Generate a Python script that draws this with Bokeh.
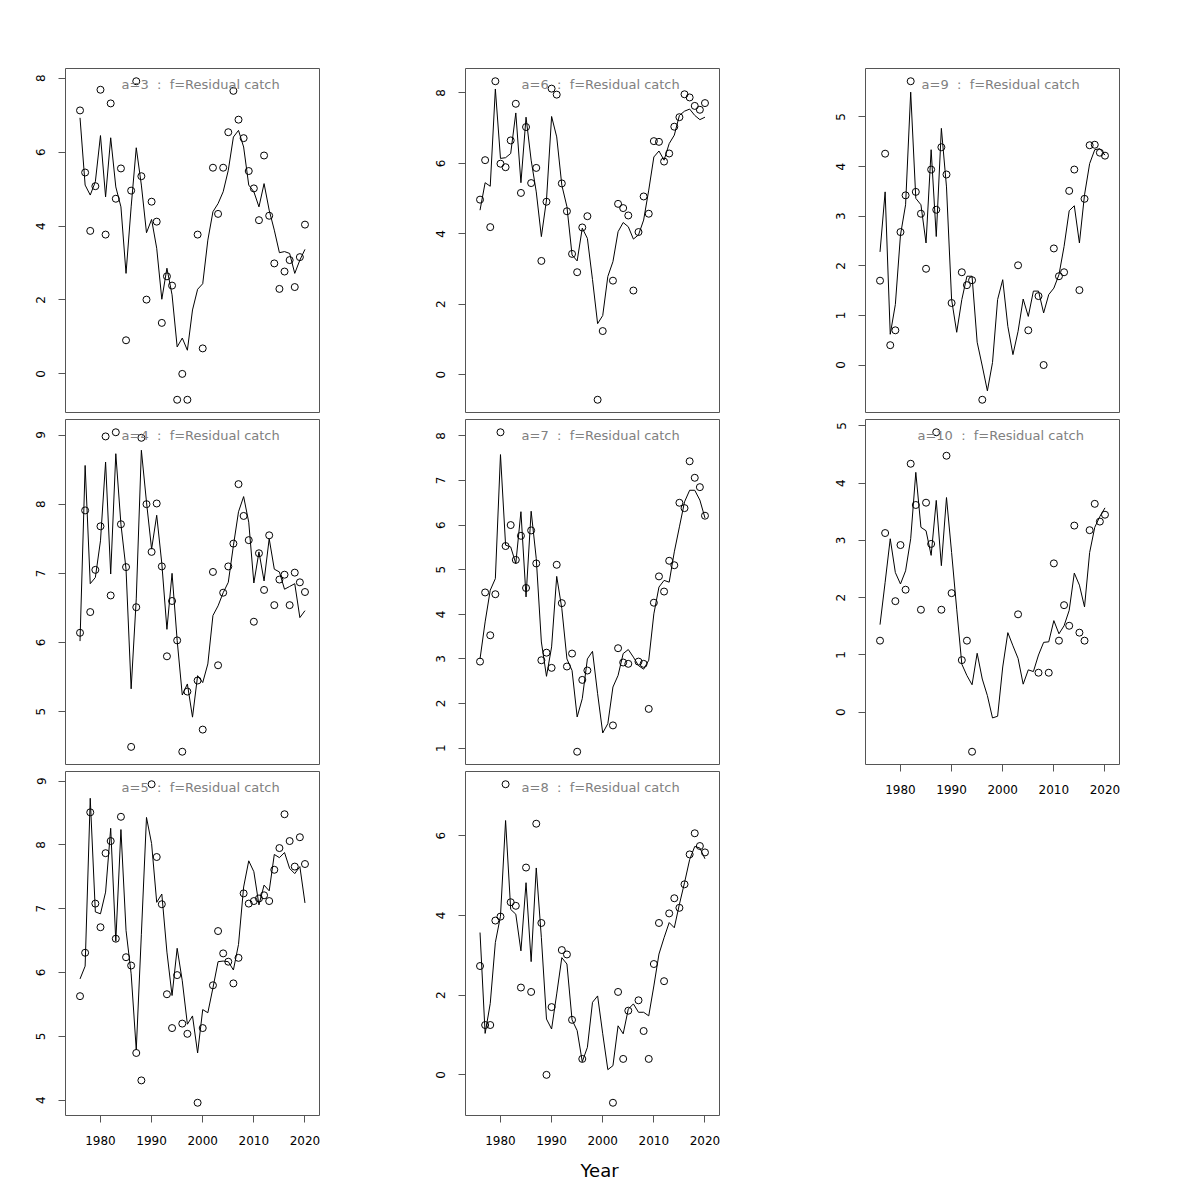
import math
from bokeh.plotting import figure
from bokeh.layouts import row, column
from bokeh.models import Range1d, FixedTicker, Label, Title
from bokeh.embed import file_html
from bokeh.resources import INLINE

nan = float("nan")
years = list(range(1976, 2021))
x_ticks = [1980, 1990, 2000, 2010, 2020]

# ---- observed (points) and fitted (line) values per age ----
a3_obs = [7.13, 5.45, 3.87, 5.08, 7.69, 3.77, 7.32, 4.74, 5.56, 0.91, 4.96, 7.92, 5.35, 2.01, 4.66, 4.12, 1.38,
          2.64, 2.39, -0.70, 0.00, -0.70, nan, 3.77, 0.69, nan, 5.58, 4.33, 5.58, 6.54, 7.66, 6.88, 6.38, 5.49,
          5.02, 4.16, 5.91, 4.28, 2.99, 2.30, 2.77, 3.08, 2.35, 3.16, 4.04]
a3_fit = [6.93, 5.11, 4.84, 5.20, 6.45, 4.79, 6.39, 5.06, 4.52, 2.72, 4.52, 6.12, 5.11, 3.82, 4.18, 3.40, 2.02,
          2.86, 2.14, 0.73, 0.97, 0.64, 1.73, 2.29, 2.44, 3.62, 4.39, 4.61, 4.93, 5.51, 6.41, 6.59, 6.14, 5.11,
          4.93, 4.52, 5.15, 4.43, 3.89, 3.28, 3.31, 3.26, 2.72, 3.08, 3.37]
a3_ticks = [0, 2, 4, 6, 8]

a4_obs = [6.14, 7.91, 6.44, 7.05, 7.68, 8.98, 6.68, 9.04, 7.71, 7.09, 4.49, 6.51, 8.96, 8.00, 7.31, 8.01, 7.10,
          5.80, 6.60, 6.03, 4.42, 5.29, nan, 5.45, 4.74, nan, 7.02, 5.67, 6.72, 7.10, 7.43, 8.29, 7.83, 7.48,
          6.30, 7.29, 6.76, 7.55, 6.54, 6.91, 6.98, 6.54, 7.01, 6.87, 6.73]
a4_fit = [6.02, 8.56, 6.85, 6.94, 7.47, 8.61, 6.99, 8.73, 7.71, 7.06, 5.33, 6.63, 8.78, 8.03, 7.35, 7.84, 7.14,
          6.19, 7.00, 6.03, 5.24, 5.40, 4.92, 5.52, 5.42, 5.69, 6.39, 6.53, 6.72, 6.87, 7.40, 7.89, 8.11, 7.74,
          6.86, 7.31, 6.89, 7.50, 7.06, 7.02, 6.77, 6.81, 6.85, 6.36, 6.46]
a4_ticks = [5, 6, 7, 8, 9]

a5_obs = [5.63, 6.31, 8.51, 7.08, 6.71, 7.87, 8.06, 6.53, 8.44, 6.24, 6.11, 4.74, 4.31, nan, 8.95, 7.81, 7.07,
          5.66, 5.13, 5.96, 5.20, 5.04, nan, 3.96, 5.13, nan, 5.80, 6.65, 6.30, 6.17, 5.83, 6.23, 7.24, 7.08,
          7.12, 7.16, 7.21, 7.12, 7.61, 7.95, 8.48, 8.06, 7.66, 8.12, 7.70]
a5_fit = [5.90, 6.10, 8.73, 6.95, 6.92, 7.26, 8.26, 6.49, 8.24, 6.66, 5.98, 4.79, 6.60, 8.43, 8.02, 7.10, 7.23,
          6.32, 5.64, 6.38, 5.87, 5.19, 5.32, 4.74, 5.42, 5.37, 5.76, 6.17, 6.18, 6.17, 6.04, 6.44, 7.34, 7.75,
          7.58, 7.06, 7.37, 7.28, 7.85, 7.80, 7.88, 7.63, 7.55, 7.66, 7.09]
a5_ticks = [4, 5, 6, 7, 8, 9]

a6_obs = [4.97, 6.09, 4.19, 8.33, 5.99, 5.89, 6.65, 7.69, 5.16, 7.03, 5.44, 5.87, 3.23, 4.91, 8.12, 7.95, 5.43,
          4.64, 3.43, 2.91, 4.18, 4.50, nan, -0.71, 1.24, nan, 2.67, 4.85, 4.73, 4.52, 2.39, 4.05, 5.06, 4.57,
          6.63, 6.61, 6.05, 6.28, 7.04, 7.31, 7.96, 7.87, 7.63, 7.52, 7.71]
a6_fit = [4.67, 5.45, 5.35, 8.11, 6.14, 6.16, 6.28, 7.43, 5.45, 7.31, 6.09, 5.19, 3.92, 4.96, 7.33, 6.75, 5.38,
          4.77, 3.40, 3.23, 4.16, 3.87, 2.70, 1.45, 1.68, 2.79, 3.21, 4.06, 4.32, 4.20, 3.85, 3.97, 4.39, 5.24,
          6.18, 6.35, 6.09, 6.56, 6.80, 7.36, 7.48, 7.54, 7.36, 7.24, 7.31]
a6_ticks = [0, 2, 4, 6, 8]

a7_obs = [2.94, 4.49, 3.53, 4.45, 8.08, 5.53, 6.00, 5.22, 5.76, 4.59, 5.88, 5.14, 2.97, 3.14, 2.80, 5.11, 4.25,
          2.83, 3.12, 0.92, 2.53, 2.74, nan, nan, nan, nan, 1.51, 3.24, 2.92, 2.89, nan, 2.94, 2.89, 1.88,
          4.26, 4.85, 4.51, 5.20, 5.10, 6.50, 6.38, 7.43, 7.06, 6.85, 6.21]
a7_fit = [3.00, 3.83, 4.54, 4.80, 7.58, 5.55, 5.51, 5.14, 6.30, 4.39, 6.31, 5.25, 3.38, 2.61, 3.27, 4.85, 4.13,
          3.00, 2.74, 1.70, 2.11, 3.00, 3.17, 2.22, 1.34, 1.55, 2.37, 2.63, 3.12, 3.21, 3.04, 2.85, 2.77, 2.97,
          4.01, 4.61, 4.76, 4.72, 5.40, 5.96, 6.52, 6.78, 6.78, 6.56, 6.16]
a7_ticks = [1, 2, 3, 4, 5, 6, 7, 8]

a8_obs = [2.73, 1.25, 1.25, 3.87, 3.97, 7.29, 4.33, 4.24, 2.19, 5.20, 2.08, 6.30, 3.81, 0.00, 1.70, nan, 3.13,
          3.02, 1.38, nan, 0.40, nan, nan, nan, nan, nan, -0.70, 2.08, 0.40, 1.61, nan, 1.87, 1.10, 0.40,
          2.78, 3.81, 2.35, 4.05, 4.43, 4.19, 4.78, 5.53, 6.06, 5.74, 5.58]
a8_fit = [3.57, 1.04, 1.79, 3.32, 3.98, 6.38, 4.15, 4.03, 3.11, 4.82, 2.84, 5.19, 3.44, 1.40, 1.15, 2.03, 2.94,
          2.78, 1.38, 1.11, 0.33, 0.69, 1.82, 1.98, 1.03, 0.13, 0.23, 1.23, 1.03, 1.65, 1.78, 1.57, 1.57, 1.48,
          2.23, 3.03, 3.44, 3.82, 3.69, 4.28, 4.82, 5.40, 5.73, 5.69, 5.42]
a8_ticks = [0, 2, 4, 6]

a9_obs = [1.70, 4.26, 0.40, 0.70, 2.68, 3.42, 5.72, 3.49, 3.05, 1.94, 3.94, 3.13, 4.39, 3.84, 1.25, nan, 1.87,
          1.61, 1.71, nan, -0.70, nan, nan, nan, nan, nan, nan, 2.01, nan, 0.70, nan, 1.39, 0.00, nan,
          2.35, 1.79, 1.87, 3.51, 3.94, 1.51, 3.35, 4.43, 4.44, 4.28, 4.22]
a9_fit = [2.28, 3.49, 0.62, 1.22, 2.62, 3.23, 5.50, 3.36, 3.23, 2.46, 4.34, 2.59, 4.77, 3.59, 1.32, 0.66, 1.32,
          1.79, 1.79, 0.46, -0.02, -0.52, 0.05, 1.32, 1.72, 0.78, 0.21, 0.68, 1.33, 0.98, 1.49, 1.49, 1.05, 1.42,
          1.55, 1.82, 2.39, 3.11, 3.21, 2.46, 3.43, 4.06, 4.34, 4.36, 4.23]
a9_ticks = [0, 1, 2, 3, 4, 5]

a10_obs = [1.25, 3.13, nan, 1.94, 2.92, 2.14, 4.34, 3.62, 1.79, 3.66, 2.94, 4.89, 1.79, 4.48, 2.08, nan, 0.91,
           1.25, -0.69, nan, nan, nan, nan, nan, nan, nan, nan, 1.71, nan, nan, nan, 0.69, nan, 0.69,
           2.60, 1.25, 1.87, 1.51, 3.26, 1.39, 1.25, 3.18, 3.64, 3.33, 3.45]
a10_fit = [1.53, 2.27, 3.03, 2.44, 2.24, 2.47, 3.03, 4.19, 3.23, 3.17, 2.74, 3.70, 2.56, 3.75, 2.79, 1.80, 0.84,
           0.64, 0.48, 1.03, 0.58, 0.29, -0.10, -0.07, 0.79, 1.39, 1.16, 0.94, 0.49, 0.74, 0.71, 1.00, 1.22, 1.23,
           1.60, 1.37, 1.51, 1.78, 2.43, 2.22, 1.84, 2.79, 3.23, 3.42, 3.57]
a10_ticks = [0, 1, 2, 3, 4, 5]

FONT = "DejaVu Sans"
BOX = "#555555"
X_LO, X_HI = 1973.16, 2022.84
NB = "\u00a0"


def make_panel(age, obs, fit, yticks, width, frame_h, bl, br, bt, bb, xaxis=False, year_label=False):
    vals = [v for v in obs + fit if not math.isnan(v)]
    lo, hi = min(vals), max(vals)
    pad = 0.04 * (hi - lo)
    ylo, yhi = lo - pad, hi + pad
    p = figure(width=width, height=frame_h + bt + bb,
               x_range=Range1d(X_LO, X_HI), y_range=Range1d(ylo, yhi),
               min_border_left=bl, min_border_right=br, min_border_top=bt, min_border_bottom=bb,
               toolbar_location=None, tools="", output_backend="svg",
               x_axis_location="below" if xaxis else None)
    p.grid.visible = False
    p.outline_line_color = BOX
    p.outline_line_width = 1
    p.background_fill_color = "white"
    p.border_fill_color = "white"

    p.line(years, fit, line_color="black", line_width=1)
    p.scatter(years, obs, marker="circle", size=7, fill_color=None, line_color="black", line_width=1)

    ya = p.yaxis[0]
    ya.ticker = FixedTicker(ticks=yticks)
    ya.bounds = (min(yticks), max(yticks))
    ya.axis_line_color = BOX
    ya.major_tick_line_color = BOX
    ya.major_tick_out = 7
    ya.major_tick_in = 0
    ya.minor_tick_out = 0
    ya.minor_tick_in = 0
    ya.major_label_orientation = "vertical"
    ya.major_label_standoff = 13
    ya.major_label_text_font = FONT
    ya.major_label_text_font_size = "12px"
    ya.major_label_text_color = "black"

    if xaxis:
        xa = p.xaxis[0]
        xa.ticker = FixedTicker(ticks=x_ticks)
        xa.bounds = (min(x_ticks), max(x_ticks))
        xa.axis_line_color = BOX
        xa.major_tick_line_color = BOX
        xa.major_tick_out = 7
        xa.major_tick_in = 0
        xa.minor_tick_out = 0
        xa.minor_tick_in = 0
        xa.major_label_standoff = 13
        xa.major_label_text_font = FONT
        xa.major_label_text_font_size = "12px"
        xa.major_label_text_color = "black"
        if year_label:
            p.add_layout(Title(text="Year", align="left", offset=115, standoff=21,
                               text_font=FONT, text_font_size="18px", text_font_style="normal",
                               text_color="black"), "below")

    span = yhi - ylo
    title_y = yhi - 16.0 * span / frame_h
    p.add_layout(Label(x=1999.6, y=title_y, text=f"a={age}{NB} :{NB} f=Residual catch",
                       text_align="center", text_baseline="middle",
                       text_font=FONT, text_font_size="13px", text_color="#808080"))
    return p


p3 = make_panel(3, a3_obs, a3_fit, a3_ticks, 408, 344, 65, 89, 68, 7)
p4 = make_panel(4, a4_obs, a4_fit, a4_ticks, 408, 345, 65, 89, 0, 7)
p5 = make_panel(5, a5_obs, a5_fit, a5_ticks, 408, 344, 65, 89, 0, 80, xaxis=True)

p6 = make_panel(6, a6_obs, a6_fit, a6_ticks, 400, 344, 57, 89, 68, 7)
p7 = make_panel(7, a7_obs, a7_fit, a7_ticks, 400, 345, 57, 89, 0, 7)
p8 = make_panel(8, a8_obs, a8_fit, a8_ticks, 400, 344, 57, 89, 0, 80, xaxis=True, year_label=True)

p9 = make_panel(9, a9_obs, a9_fit, a9_ticks, 351, 344, 57, 40, 68, 7)
p10 = make_panel(10, a10_obs, a10_fit, a10_ticks, 351, 345, 57, 40, 0, 60, xaxis=True)

layout = row(column(p3, p4, p5), column(p6, p7, p8), column(p9, p10))

open("out.html", "w").write(file_html(layout, INLINE))
